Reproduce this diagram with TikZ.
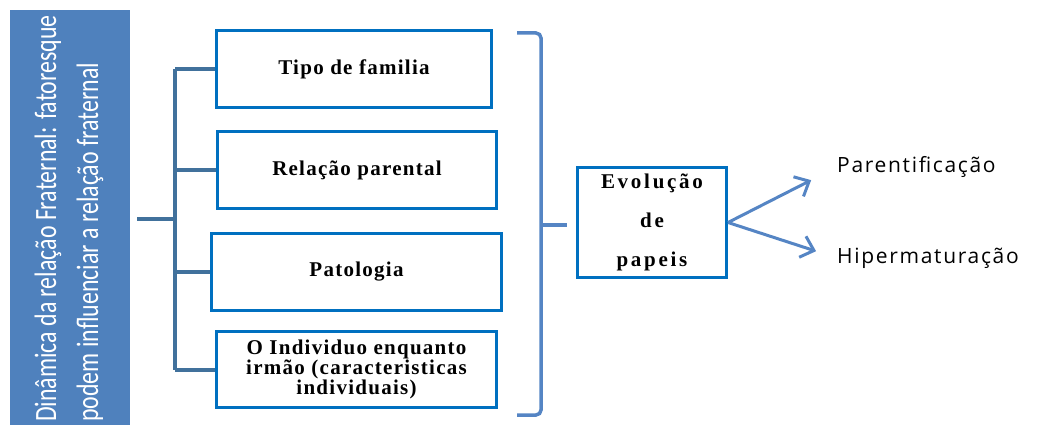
\documentclass[tikz,border=0pt]{standalone}
\usepackage{fontspec}
\setmainfont{Liberation Serif}
\newfontfamily\titulofont[FakeStretch=0.77]{Carlito}
\newfontfamily\rotulofont[LetterSpace=8]{Open Sans}
\newfontfamily\caixafont[LetterSpace=6]{Liberation Serif}
\newfontfamily\evolfont[LetterSpace=13]{Liberation Serif}
\usetikzlibrary{arrows.meta}
\definecolor{fundo}{HTML}{4F81BD}
\definecolor{borda}{HTML}{0070C0}
\definecolor{ramo}{HTML}{41719C}
\definecolor{seta}{HTML}{5585C4}
\tikzset{
  fator/.style={draw=borda, line width=3pt, minimum height=77pt, align=center,
    inner sep=2pt, font=\caixafont\bfseries\fontsize{21}{17.5}\selectfont},
  titulo/.style={rotate=90, anchor=west, align=left, text=white, inner sep=0pt,
    font=\titulofont\fontsize{31}{42}\selectfont},
  rotulo/.style={anchor=west, inner sep=0pt, font=\rotulofont\fontsize{21}{22}\selectfont},
  ramolinha/.style={draw=ramo, line width=4pt},
  chave/.style={draw=seta, line width=3.5pt},
  saida/.style={draw=seta, line width=3pt, -{Straight Barb[length=12pt,width=22pt]}},
}
\begin{document}
\begin{tikzpicture}[x=1pt, y=-1pt]
  \useasboundingbox (0,0) rectangle (1044,425);
  \node[fill=fundo, minimum width=120pt, minimum height=430pt, anchor=north west,
    inner sep=0pt] (painel) at (10,10) {};
  \node[titulo] (tit) at (69,422) {Dinâmica da relação Fraternal: fatoresque\\
    podem influenciar a relação fraternal};

  \node[fator, minimum width=275pt] (tipo) at (354,69) {Tipo de familia};
  \node[fator, minimum width=279pt] (relacao) at (357,170) {Relação parental};
  \node[fator, minimum width=290pt] (patologia) at (356.5,272) {Patologia};
  \node[fator, minimum width=280pt, minimum height=76pt] (individuo) at (356.5,369.5)
    {O Individuo enquanto\\ irmão (caracteristicas\\ individuais)};
  \node[fator, minimum width=149pt, minimum height=110pt,
    font=\evolfont\bfseries\fontsize{21}{39}\selectfont] (evolucao) at (652,222.5)
    {Evolução\\ de\\ papeis};

  \node[rotulo] (parent) at (837,167) {Parentificação};
  \node[rotulo] (hiper) at (837,258) {Hipermaturação};

  \coordinate (raiz) at (137,219);
  \coordinate (tronco) at (175,219);
  \draw[ramolinha] (raiz) -- (tronco);
  \draw[ramolinha] (tronco |- tipo.west) -- (tronco |- individuo.west);
  \foreach \n in {tipo,relacao,patologia,individuo}
    \draw[ramolinha] (tronco |- \n.west) -- (\n.west);

  \coordinate (ponta) at (541,225);
  \draw[chave, rounded corners=5pt] (517,33) -| (ponta) |- (517,415);
  \draw[chave, shorten >=9pt] (ponta) -- (ponta -| evolucao.west);

  \draw[saida, shorten >=29pt] (evolucao.east) -- (parent.west);
  \draw[saida, shorten >=22pt] (evolucao.east) -- (hiper.west);
\end{tikzpicture}
\end{document}
